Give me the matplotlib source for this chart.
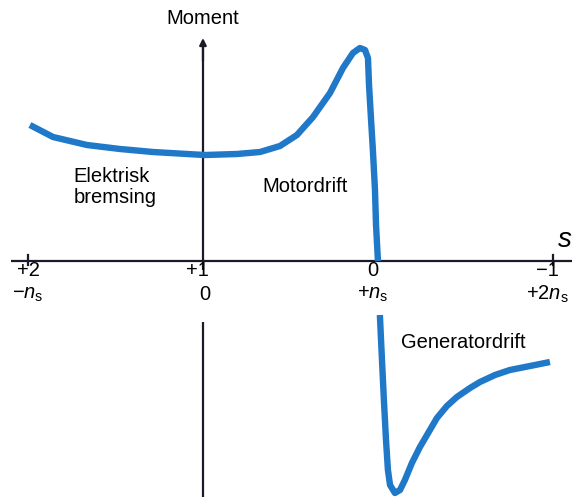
import matplotlib
matplotlib.use("Agg")
import matplotlib.pyplot as plt

plt.rcParams['font.family'] = ['Liberation Sans', 'DejaVu Sans']
plt.rcParams['mathtext.fontset'] = 'custom'
plt.rcParams['mathtext.rm'] = 'Liberation Sans'
plt.rcParams['mathtext.it'] = 'Liberation Sans:italic'

# slip s and torque (arbitrary units)
s_motor = [1.989, 1.857, 1.663, 1.474, 1.286, 1.091, 0.989, 0.806, 0.674, 0.56,
           0.463, 0.371, 0.274, 0.2, 0.143, 0.103, 0.074, 0.057, 0.051, 0.04,
           0.029, 0.017, 0.011, 0.0]
t_motor = [1.36, 1.24, 1.16, 1.12, 1.09, 1.07, 1.06, 1.07, 1.09, 1.15,
           1.26, 1.44, 1.68, 1.93, 2.08, 2.13, 2.11, 2.03, 1.76, 1.43,
           1.11, 0.71, 0.36, 0.0]

s_gen = [-0.011, -0.023, -0.034, -0.046, -0.057, -0.069, -0.097, -0.126,
         -0.154, -0.194, -0.24, -0.297, -0.337, -0.394, -0.451, -0.526,
         -0.583, -0.669, -0.754, -0.869, -0.983]
t_gen = [-0.54, -0.99, -1.39, -1.79, -2.09, -2.24, -2.32, -2.29,
         -2.19, -2.02, -1.86, -1.69, -1.57, -1.45, -1.36, -1.27,
         -1.21, -1.14, -1.09, -1.05, -1.01]

slip_ticks = [2, 1, 0, -1]
slip_labels = ['+2', '+1', '0', '\u22121']
speed_labels = [r'$-n_{\mathrm{s}}$', '0', r'$+n_{\mathrm{s}}$', r'$+2n_{\mathrm{s}}$']

W, H = 572, 497
fig = plt.figure(figsize=(W / 100, H / 100), dpi=100)
ax = fig.add_axes([0, 0, 1, 1])
ax.set_xlim(2.16, -1.109)
ax.set_ylim(-2.36, 2.61)
ax.axis('off')

blue = '#1f78c8'
axc = '#1a1a28'

# axes
ax.plot([2.097, -1.109], [0, 0], color=axc, lw=1.6, solid_capstyle='butt')
ax.plot([1, 1], [2.16, -0.09], color=axc, lw=1.6, solid_capstyle='butt')
ax.plot([1, 1], [-0.61, -2.36], color=axc, lw=1.6, solid_capstyle='butt')
ax.annotate('', xy=(1, 2.23), xytext=(1, 2.0),
            arrowprops=dict(arrowstyle='-|>', color=axc, lw=1.6,
                            mutation_scale=10, shrinkA=0, shrinkB=0))
for st in [2, -1]:
    ax.plot([st, st], [-0.04, 0.06], color=axc, lw=1.6)

# curves
ax.plot(s_motor, t_motor, color=blue, lw=4.6, solid_joinstyle='round', solid_capstyle='butt')
ax.plot(s_gen, t_gen, color=blue, lw=4.6, solid_joinstyle='round', solid_capstyle='butt')

fs = 14.5
off1 = [0.0, 0.03, 0.03, 0.03]
off2 = [0.0, -0.01, 0.03, 0.03]
for st, l1, l2, d1, d2 in zip(slip_ticks, slip_labels, speed_labels, off1, off2):
    ax.text(st + d1, -0.09, l1, ha='center', va='center', fontsize=fs)
    ax.text(st + d2, -0.33, l2, ha='center', va='center', fontsize=fs)

ax.text(1, 2.43, 'Moment', ha='center', va='center', fontsize=fs)
ax.text(-1.07, 0.21, 's', ha='center', va='center', fontsize=20, style='italic')
ax.text(1.74, 0.74, 'Elektrisk\nbremsing', ha='left', va='center', fontsize=fs,
        linespacing=1.15)
ax.text(0.417, 0.74, 'Motordrift', ha='center', va='center', fontsize=fs)
ax.text(-0.486, -0.82, 'Generatordrift', ha='center', va='center', fontsize=fs)

fig.savefig('out.png', dpi=100)
